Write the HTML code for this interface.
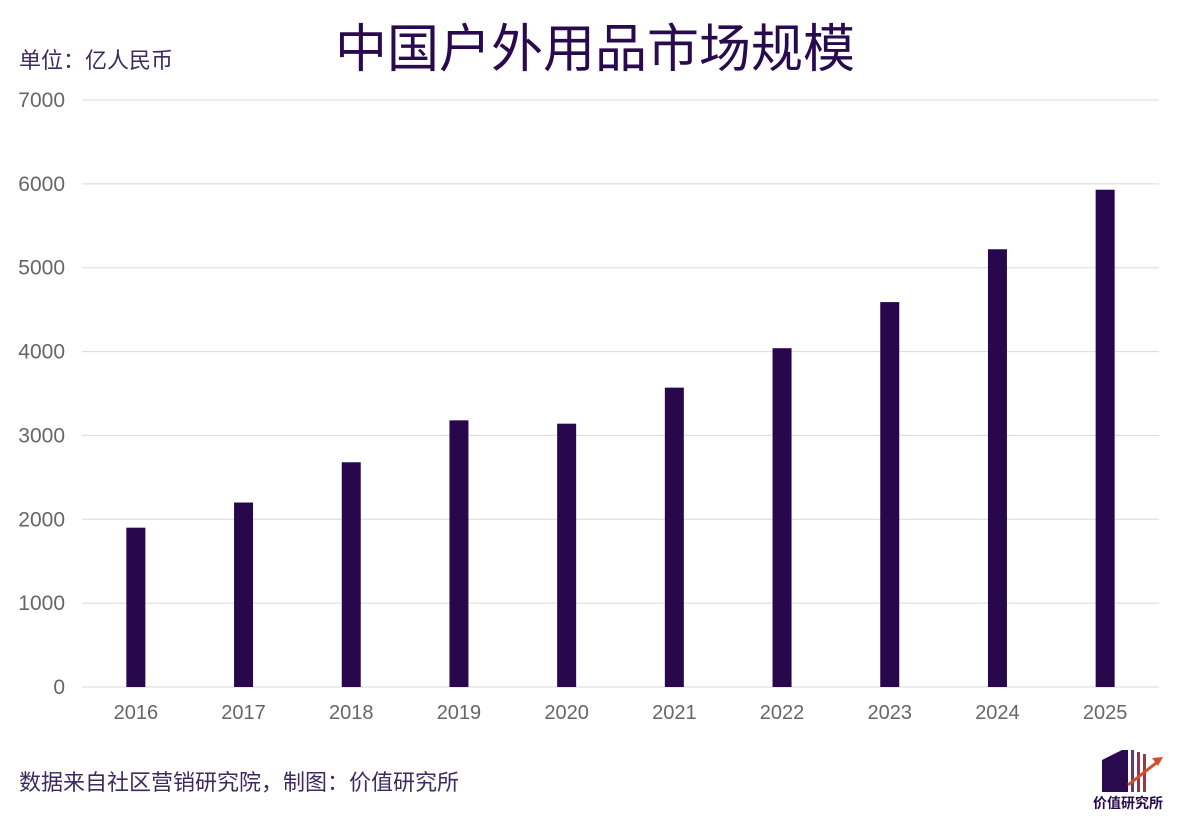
<!DOCTYPE html>
<html><head><meta charset="utf-8"><style>
body{margin:0;background:#fff;}
svg{display:block;font-family:"Liberation Sans","Noto Sans CJK SC",sans-serif;}
</style></head><body>
<svg id="c" width="1195" height="832" viewBox="0 0 1195 832">
<text x="595" y="67" text-anchor="middle" font-size="52" fill="#2a0a4e" font-weight="normal">中国户外用品市场规模</text>
<text x="19" y="68" font-size="22" fill="#3d2a5e">单位：亿人民币</text>
<g id="grid"></g><g id="bars"></g><g id="xl"></g>
<text x="19" y="790" font-size="22" fill="#3d2a5e">数据来自社区营销研究院，制图：价值研究所</text>
<g>
<polygon points="1102,760 1122,750 1128,750 1128,792 1102,792" fill="#2a0a4e"/>
<rect x="1131" y="750" width="3" height="42" fill="#6a3a6e"/>
<rect x="1137" y="752" width="3" height="40" fill="#8a3a50"/>
<rect x="1143" y="754" width="3" height="38" fill="#a03a3a"/>
<line x1="1128" y1="785" x2="1160" y2="760" stroke="#d0502a" stroke-width="3"/>
<polygon points="1163,757 1152,758 1158,766" fill="#d0502a"/>
<text x="1128" y="808" text-anchor="middle" font-size="14" font-weight="bold" fill="#2a0a4e">价值研究所</text>
</g>
</svg>
<script>
const categories=["2016","2017","2018","2019","2020","2021","2022","2023","2024","2025"];
const values=[1900,2200,2680,3180,3140,3570,4040,4590,5220,5930];
const ticks=[0,1000,2000,3000,4000,5000,6000,7000];
const ns="http://www.w3.org/2000/svg";
const x0=82,x1=1159,yB=687,yT=100,maxV=7000;
const y=v=>yB-(yB-yT)*v/maxV;
const step=(x1-x0)/categories.length;
const xc=i=>x0+step*(i+0.5);
function mk(t,a,p){const e=document.createElementNS(ns,t);for(const k in a)e.setAttribute(k,a[k]);p.appendChild(e);return e;}
const g=document.getElementById('grid');
ticks.forEach(t=>{
 const l=mk('line',{x1:x0,x2:x1,y1:y(t),y2:y(t),stroke:'#d9d9d9','stroke-width':1},g);
 
 
 const tx=mk('text',{x:65,y:y(t)+7,'text-anchor':'end','font-size':21,fill:'#666'},g);
 tx.textContent=t;
 
 
});
const b=document.getElementById('bars'),xl=document.getElementById('xl');
values.forEach((v,i)=>{
 const r=mk('rect',{x:xc(i)-9.5,y:y(v),width:19,height:yB-y(v),fill:'#28074d'},b);
 
 
 const t=mk('text',{x:xc(i),y:719,'text-anchor':'middle','font-size':20,fill:'#666'},xl);
 t.textContent=categories[i];
 
 
});
</script>
</body></html>
